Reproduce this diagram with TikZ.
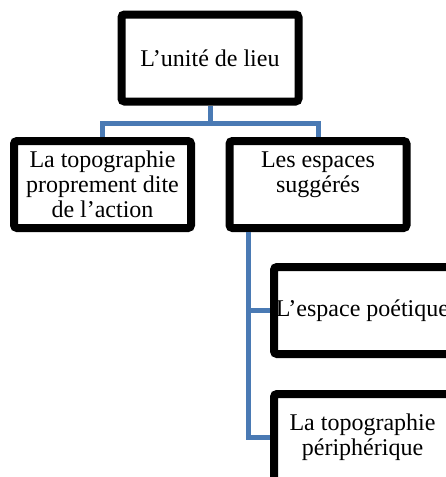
\documentclass[tikz,border=0pt]{standalone}
\usepackage{fontspec}
\setmainfont{Liberation Serif}
\definecolor{linkblue}{RGB}{74,122,180}
\begin{document}
\begin{tikzpicture}[x=1pt,y=-1pt,
  box/.style={draw=black,line width=8pt,rounded corners=3pt,fill=white,
    minimum width=177pt,minimum height=87pt,inner sep=0pt,align=center,
    font=\fontsize{24}{25}\selectfont},
  link/.style={draw=linkblue,line width=5pt}]
\useasboundingbox (0,0) rectangle (446,477);
\clip (0,0) rectangle (446,477);
\node[box] (top) at (210,58) {L’unité de lieu};
\node[box] (c1) at (102.5,184.5) {La topographie\\proprement dite\\de l’action};
\node[box] (c2) at (318,184.5) {Les espaces\\suggérés\\~};
\node[box] (b3) at (362.5,310.5) {L’espace poétique};
\node[box] (b4) at (362.5,437.5) {La topographie\\périphérique};
\coordinate (j) at (210,123);
\draw[link] (top.south) -- (j);
\draw[link] (c1.north) |- (j) -| (c2.north);
\draw[link] ([xshift=-70pt]c2.south) |- (b3.west);
\draw[link] ([xshift=-70pt]c2.south) |- (b4.west);
\end{tikzpicture}
\end{document}
